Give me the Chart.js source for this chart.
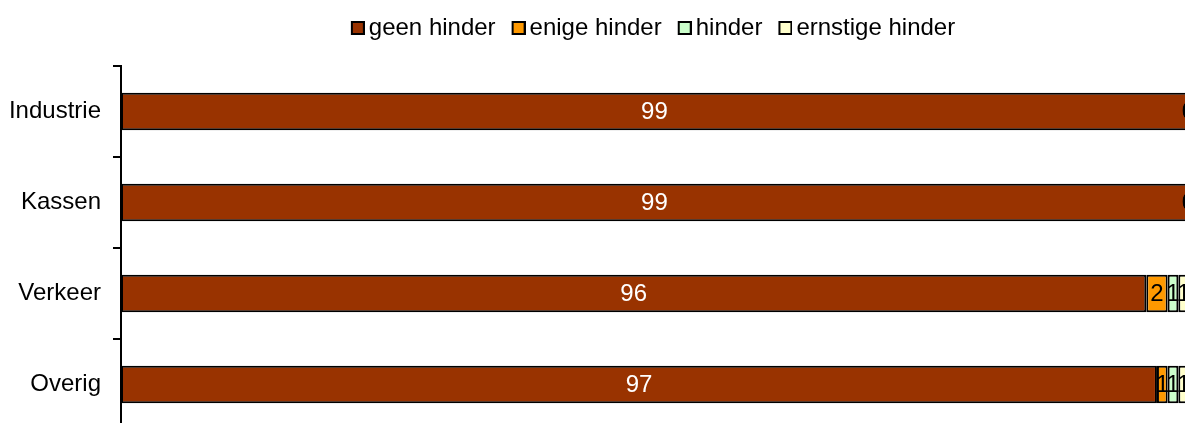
<!DOCTYPE html>
<html>
<head>
<meta charset="utf-8">
<script src="https://cdn.jsdelivr.net/npm/chart.js@4.4.1/dist/chart.umd.min.js"></script>
<style>
  body { margin: 0; background: #fff; }
  #frame { width: 1185px; height: 423px; overflow: hidden; position: relative; }
  #wrap { width: 1200px; height: 432px; position: absolute; left: 0; top: 0; }
</style>
</head>
<body>
<div id="frame"><div id="wrap"><canvas id="hinderChart"></canvas></div></div>
<script>
const categories = ["Industrie", "Kassen", "Verkeer", "Overig"];
const seriesNames = ["geen hinder", "enige hinder", "hinder", "ernstige hinder"];
const geenHinder = [99.9, 99.9, 96, 97];
const enigeHinder = [0.1, 0.1, 2, 1];
const hinder = [0, 0, 1, 1];
const ernstigeHinder = [0, 0, 1, 1];
const seriesColors = ["#993300", "#ff9900", "#ccffcc", "#ffffcc"];
const labelColors = ["#ffffff", "#000000", "#000000", "#000000"];

const FONT = "'Liberation Sans', Arial, sans-serif";

// small legend square, drawn at the right of an 18px wide image
function makeLegendBox(color) {
  const c = document.createElement("canvas");
  c.width = 18;
  c.height = 14;
  const ctx = c.getContext("2d");
  ctx.fillStyle = "#000";
  ctx.fillRect(4, 0, 14, 14);
  ctx.fillStyle = color;
  ctx.fillRect(6, 2, 10, 10);
  return c;
}
const legendBoxes = seriesColors.map(makeLegendBox);

const barLabels = {
  id: "barLabels",
  afterDatasetsDraw(chart) {
    const ctx = chart.ctx;
    ctx.save();
    ctx.font = "24px " + FONT;
    ctx.textAlign = "center";
    ctx.textBaseline = "middle";
    chart.data.datasets.forEach((ds, i) => {
      const meta = chart.getDatasetMeta(i);
      meta.data.forEach((bar, j) => {
        const x = (bar.x + bar.base) / 2;
        ctx.fillStyle = labelColors[i];
        ctx.fillText(String(Math.floor(ds.data[j])), x, bar.y + 1);
      });
    });
    ctx.restore();
  },
};

const allSeries = [geenHinder, enigeHinder, hinder, ernstigeHinder];

new Chart(document.getElementById("hinderChart"), {
  type: "bar",
  data: {
    labels: categories,
    datasets: allSeries.map((values, i) => ({
      label: seriesNames[i],
      data: values,
      backgroundColor: seriesColors[i],
      borderColor: "#000",
      borderWidth: 2,
      borderSkipped: false,
      barPercentage: 0.41,
      categoryPercentage: 1,
    })),
  },
  options: {
    indexAxis: "y",
    responsive: true,
    maintainAspectRatio: false,
    animation: false,
    layout: { padding: { top: -4, right: 11, bottom: 2, left: 0 } },
    scales: {
      x: {
        stacked: true,
        display: false,
        min: 0,
        max: 100,
      },
      y: {
        stacked: true,
        afterFit(scale) {
          scale.width = 121;
          scale.paddingTop = 0;
          scale.paddingBottom = 0;
        },
        border: { display: true, color: "#000", width: 2 },
        grid: {
          display: true,
          drawOnChartArea: false,
          drawTicks: true,
          tickLength: 8,
          color: "#000",
          lineWidth: 2,
        },
        ticks: {
          color: "#000",
          padding: 12,
          font: { family: FONT, size: 24 },
        },
      },
    },
    plugins: {
      legend: {
        position: "top",
        fullSize: false,
        weight: 1000,
        labels: {
          usePointStyle: true,
          pointStyleWidth: 2,
          padding: 20,
          color: "#000",
          font: { family: FONT, size: 24 },
          generateLabels(chart) {
            const items = Chart.defaults.plugins.legend.labels.generateLabels(chart);
            items.forEach((item, i) => {
              item.pointStyle = legendBoxes[i];
            });
            return items;
          },
        },
      },
      title: {
        display: true,
        text: "",
        weight: 500,
        font: { size: 10 },
        padding: { top: 0, bottom: 4 },
      },
      tooltip: { enabled: false },
    },
  },
  plugins: [barLabels],
});
</script>
</body>
</html>
